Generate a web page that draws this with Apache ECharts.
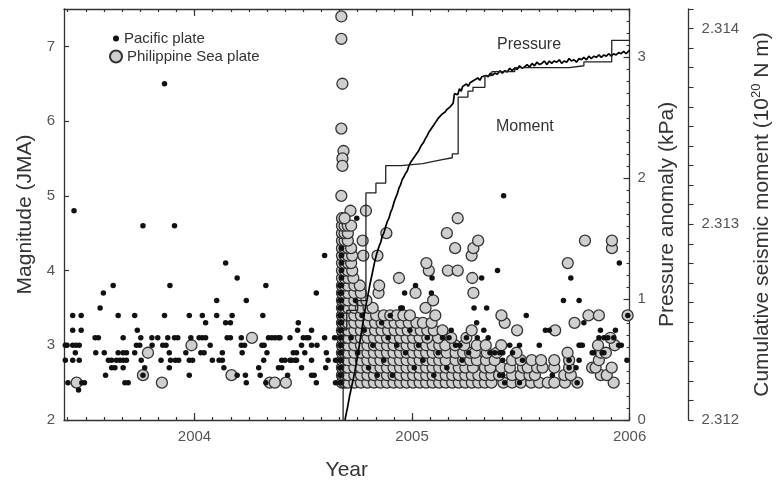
<!DOCTYPE html>
<html><head><meta charset="utf-8">
<script src="https://cdn.jsdelivr.net/npm/echarts@6/dist/echarts.min.js"></script>
<style>html,body{margin:0;padding:0;background:#fff}#c{width:781px;height:486px}</style>
</head><body><div id="c"></div>
<script>
// ---------------- DATA ----------------
const yearLabels = [2004, 2005, 2006];
const magLabels = [2, 3, 4, 5, 6, 7];
const pressureLabels = [0, 1, 2, 3];
const momentLabels = [2.312, 2.313, 2.314];

// Pacific plate events before the 2004 sequence [year, magnitude]
const pacificBefore = [
 [2003.446,4.8],[2003.440,3.4],[2003.479,3.4],[2003.440,3.2],[2003.479,3.2],
 [2003.406,3.0],[2003.414,3.0],[2003.440,3.0],[2003.455,3.0],[2003.470,3.0],
 [2003.452,2.9],[2003.406,2.8],[2003.440,2.8],[2003.470,2.8],
 [2003.418,2.5],[2003.482,2.5],[2003.494,2.5],[2003.467,2.4],
 [2003.566,3.5],[2003.581,3.7],[2003.626,3.8],[2003.543,3.1],[2003.558,3.1],
 [2003.546,2.9],[2003.585,2.9],[2003.591,2.6],[2003.604,2.8],[2003.619,2.8],
 [2003.619,2.7],[2003.634,2.7],[2003.641,2.8],[2003.657,2.8],[2003.672,2.8],[2003.687,2.8],
 [2003.649,2.9],[2003.672,2.9],[2003.687,2.9],[2003.649,3.4],[2003.672,3.1],[2003.672,2.7],
 [2003.680,2.5],[2003.695,2.5],[2003.725,3.4],[2003.725,2.9],[2003.737,3.2],
 [2003.733,3.0],[2003.748,3.0],[2003.753,3.1],[2003.755,2.8],[2003.763,4.6],
 [2003.771,2.7],[2003.763,2.6],[2003.805,3.0],[2003.804,3.1],[2003.831,3.1],
 [2003.846,2.8],[2003.862,3.4],[2003.854,3.0],[2003.869,3.0],[2003.884,2.9],
 [2003.884,2.7],[2003.887,3.8],[2003.877,3.1],[2003.908,3.1],[2003.923,3.1],
 [2003.908,4.6],[2003.890,2.8],[2003.912,2.8],[2003.927,2.8],[2003.960,2.9],
 [2003.976,3.4],[2003.976,2.6],[2003.976,2.8],[2003.991,2.8],[2003.983,3.1],
 [2003.862,6.5],
 [2004.021,3.1],[2004.036,3.1],[2004.051,3.1],[2004.036,3.4],[2004.029,2.9],[2004.044,2.9],
 [2004.051,3.3],[2004.072,3.0],[2004.082,2.8],[2004.102,3.6],[2004.102,3.4],
 [2004.113,2.8],[2004.128,2.8],[2004.128,2.9],[2004.135,2.7],[2004.143,4.1],
 [2004.143,3.3],[2004.165,3.3],[2004.150,3.1],[2004.165,3.1],[2004.173,3.4],
 [2004.196,3.9],[2004.196,2.6],[2004.219,2.9],[2004.215,3.0],[2004.230,3.0],
 [2004.215,3.1],[2004.238,3.6],[2004.234,2.6],[2004.238,2.5],
 [2004.328,3.8],[2004.314,3.4],[2004.295,2.7],[2004.302,2.6],[2004.310,3.0],[2004.320,3.0],
 [2004.318,2.8],[2004.328,2.5],[2004.333,2.9],[2004.340,3.1],[2004.355,3.1],
 [2004.370,3.1],[2004.386,3.1],[2004.393,3.1],[2004.386,2.7],[2004.401,2.7],
 [2004.401,2.8],[2004.416,2.8],[2004.428,2.6],[2004.439,3.1],[2004.439,2.8],
 [2004.446,2.8],[2004.462,2.8],[2004.454,2.9],[2004.469,2.9],[2004.469,2.8],
 [2004.477,3.3],[2004.474,3.2],[2004.492,3.0],[2004.492,2.7],[2004.500,3.1],
 [2004.515,3.1],[2004.507,2.9],[2004.538,3.2],[2004.538,3.0],[2004.538,2.8],
 [2004.538,2.6],[2004.550,2.6],[2004.525,3.1],[2004.560,3.7],[2004.560,2.5],
 [2004.563,3.0],[2004.598,4.2],[2004.598,3.1],[2004.606,2.9],[2004.614,2.8],
 [2004.603,2.7],[2004.644,3.1],[2004.648,2.8],[2004.648,2.5]
];

// Pacific plate events from the Sept 2004 sequence onwards
const pacificAfter = [
 [2004.668,2.5],[2004.668,2.6],[2004.668,2.7],[2004.668,2.8],[2004.668,2.9],[2004.668,3.0],
 [2004.668,3.1],[2004.668,3.2],[2004.668,3.3],[2004.668,3.4],[2004.668,3.5],[2004.668,3.6],
 [2004.668,3.7],[2004.668,3.8],
 [2004.676,2.5],[2004.676,2.6],[2004.676,2.7],[2004.676,2.8],[2004.676,2.9],[2004.676,3.0],
 [2004.676,3.1],[2004.676,3.2],[2004.676,3.3],[2004.676,3.4],[2004.676,3.5],[2004.676,3.6],
 [2004.676,3.7],[2004.676,3.8],[2004.676,3.9],[2004.676,4.0],[2004.676,4.1],[2004.676,4.2],
 [2004.676,4.3],
 [2004.720,3.1],[2004.750,2.9],[2004.780,3.2],[2004.800,2.7],[2004.820,3.0],[2004.840,2.6],
 [2004.860,3.3],[2004.870,2.8],[2004.890,3.1],[2004.910,2.6],[2004.930,3.0],[2004.955,3.5],
 [2004.966,3.7],[2004.970,2.9],[2004.990,3.2],[2005.010,2.7],[2005.016,3.8],[2005.030,3.0],
 [2005.050,2.8],[2005.070,3.1],[2005.089,3.7],[2005.092,3.9],[2005.100,2.6],[2005.120,2.9],
 [2005.140,3.1],[2005.160,2.7],[2005.180,3.2],[2005.200,3.0],[2005.230,2.8],[2005.250,3.1],
 [2004.746,4.7],[2004.740,3.6],[2004.770,3.4],[2004.900,3.4],[2004.948,3.5],
 [2005.170,3.1],[2005.220,3.0],[2005.260,2.9],[2005.300,3.1],[2005.330,3.2],[2005.350,3.1],
 [2005.285,3.5],[2005.320,3.9],[2005.343,3.5],[2005.393,4.0],[2005.421,5.0],[2005.525,3.4],
 [2005.696,3.6],[2005.768,3.6],[2005.730,3.9],[2005.953,4.1],[2005.992,3.4],[2005.988,2.8],
 [2005.613,3.2],[2005.631,3.2],[2005.866,3.2],[2005.935,3.2],
 [2005.859,3.1],[2005.882,3.1],[2005.900,3.1],[2005.927,3.1],
 [2005.449,3.0],[2005.494,3.0],[2005.585,3.0],[2005.768,3.0],[2005.775,3.0],[2005.783,3.0],
 [2005.950,3.0],[2005.962,3.0],
 [2005.358,2.9],[2005.380,2.9],[2005.403,2.9],[2005.417,2.9],[2005.462,2.9],[2005.828,2.9],
 [2005.836,2.9],[2005.874,2.9],[2005.882,2.9],
 [2005.417,2.8],[2005.508,2.8],[2005.722,2.8],[2005.768,2.8],
 [2005.722,2.7],[2005.754,2.7],[2005.403,2.6],[2005.417,2.6],[2005.645,2.6],
 [2005.426,2.5],[2005.494,2.5],[2005.759,2.5],[2005.297,3.3],[2005.790,3.3]
];

// Philippine Sea plate events before the sequence [year, magnitude]
const philippineBefore = [
 [2003.458,2.5],[2003.763,2.6],[2003.786,2.9],[2003.850,2.5],[2003.986,3.0],
 [2004.170,2.6],[2004.264,3.1],[2004.346,2.5],[2004.369,2.5],[2004.420,2.5]
];

// Largest events of the sequence
const philippineLarge = [
 [2004.675,7.4],[2004.675,7.1],[2004.680,6.5],[2004.675,5.9],[2004.685,5.6],
 [2004.680,5.5],[2004.680,5.4],[2004.675,5.0],[2004.717,4.8],[2004.788,4.8]
];

// Aftershock rows: [magnitude, [years...]]
const philippineRows = [
 [2.5, [2004.678,2004.690,2004.705,2004.735,2004.765,2004.795,2004.825,2004.855,2004.885,2004.915,2004.945,2004.975,2005.005,2005.035,2005.065,2005.095,2005.125,2005.155,2005.185,2005.215,2005.245,2005.275,2005.305,2005.335,2005.365,2005.420,2005.460,2005.500,2005.548,2005.585,2005.624,2005.654,2005.703,2005.760,2005.927]],
 [2.6, [2004.678,2004.690,2004.705,2004.735,2004.765,2004.795,2004.825,2004.855,2004.885,2004.915,2004.945,2004.975,2005.005,2005.035,2005.065,2005.095,2005.125,2005.155,2005.185,2005.215,2005.245,2005.275,2005.305,2005.335,2005.365,2005.400,2005.460,2005.500,2005.540,2005.565,2005.700,2005.730,2005.868,2005.895]],
 [2.7, [2004.678,2004.690,2004.705,2004.735,2004.765,2004.795,2004.825,2004.855,2004.885,2004.915,2004.945,2004.975,2005.005,2005.035,2005.065,2005.095,2005.125,2005.155,2005.185,2005.215,2005.245,2005.280,2005.335,2005.360,2005.410,2005.450,2005.510,2005.532,2005.575,2005.600,2005.654,2005.722,2005.828,2005.844,2005.918]],
 [2.8, [2004.678,2004.690,2004.705,2004.735,2004.765,2004.795,2004.825,2004.855,2004.885,2004.915,2004.945,2004.975,2005.005,2005.035,2005.065,2005.095,2005.125,2005.155,2005.200,2005.235,2005.267,2005.298,2005.340,2005.380,2005.460,2005.500,2005.550,2005.593,2005.654,2005.722,2005.859]],
 [2.9, [2004.678,2004.690,2004.705,2004.735,2004.765,2004.795,2004.825,2004.855,2004.885,2004.915,2004.945,2004.975,2005.005,2005.035,2005.065,2005.095,2005.125,2005.160,2005.200,2005.235,2005.267,2005.289,2005.344,2005.390,2005.480,2005.715,2005.868,2005.891]],
 [3.0, [2004.678,2004.690,2004.705,2004.735,2004.765,2004.795,2004.825,2004.855,2004.885,2004.915,2004.945,2004.975,2005.005,2005.035,2005.065,2005.095,2005.125,2005.153,2005.198,2005.240,2005.298,2005.339,2005.410,2005.855,2005.932]],
 [3.1, [2004.678,2004.690,2004.705,2004.735,2004.765,2004.795,2004.825,2004.855,2004.885,2004.915,2004.945,2004.975,2005.005,2005.035,2005.070,2005.120,2005.180,2005.250,2005.912]],
 [3.2, [2004.678,2004.690,2004.705,2004.735,2004.765,2004.795,2004.830,2004.860,2004.890,2004.920,2004.950,2004.980,2005.010,2005.040,2005.070,2005.100,2005.140,2005.274,2005.483,2005.658]],
 [3.3, [2004.678,2004.690,2004.705,2004.735,2004.765,2004.800,2004.830,2004.860,2004.890,2004.920,2004.950,2004.985,2005.020,2005.050,2005.090,2005.426,2005.747]],
 [3.4, [2004.678,2004.690,2004.705,2004.735,2004.765,2004.800,2004.835,2004.870,2004.900,2004.930,2004.960,2004.990,2005.107,2005.411,2005.811,2005.859,2005.991]],
 [3.5, [2004.678,2004.690,2004.705,2004.735,2004.765,2004.800,2004.819,2005.062]],
 [3.6, [2004.678,2004.690,2004.705,2004.735,2004.765,2004.790,2005.097]],
 [3.7, [2004.678,2004.690,2004.705,2004.735,2004.765,2004.846,2005.016,2005.282]],
 [3.8, [2004.678,2004.690,2004.705,2004.735,2004.760,2004.849]],
 [3.9, [2004.678,2004.690,2004.705,2004.730,2004.940,2005.277]],
 [4.0, [2004.678,2004.690,2004.705,2004.725,2005.077,2005.165,2005.210]],
 [4.1, [2004.678,2004.690,2004.705,2004.720,2005.066,2005.716]],
 [4.2, [2004.678,2004.690,2004.705,2004.725,2004.776,2004.841,2005.274]],
 [4.3, [2004.678,2004.690,2004.705,2004.720,2005.198,2005.282,2005.919]],
 [4.4, [2004.678,2004.690,2004.705,2004.773,2005.304,2005.795,2005.919]],
 [4.5, [2004.678,2004.690,2004.705,2004.882,2005.160]],
 [4.6, [2004.678,2004.690,2004.705,2004.720]],
 [4.7, [2004.678,2004.690,2005.210]]
];

// Pressure anomaly (kPa) [year, value]
const pressure = [
 [2004.692,0.00],[2004.697,0.05],[2004.702,0.09],[2004.706,0.13],[2004.712,0.19],[2004.718,0.24],
 [2004.724,0.29],[2004.730,0.34],[2004.737,0.40],[2004.743,0.46],[2004.750,0.53],[2004.757,0.61],
 [2004.765,0.70],[2004.772,0.78],[2004.780,0.87],[2004.788,0.95],[2004.797,1.03],[2004.804,1.10],
 [2004.811,1.16],[2004.818,1.22],[2004.826,1.29],[2004.834,1.35],[2004.842,1.40],[2004.849,1.44],
 [2004.856,1.47],[2004.863,1.52],[2004.871,1.55],[2004.879,1.60],[2004.886,1.64],[2004.894,1.67],
 [2004.902,1.72],[2004.909,1.75],[2004.917,1.80],[2004.925,1.84],[2004.932,1.87],[2004.940,1.92],
 [2004.948,1.95],[2004.955,1.99],[2004.962,2.01],[2004.970,2.04],[2004.978,2.06],[2004.985,2.10],
 [2004.993,2.13],[2005.001,2.14],[2005.008,2.17],[2005.016,2.19],[2005.024,2.21],[2005.031,2.23],
 [2005.039,2.26],[2005.046,2.28],[2005.054,2.30],[2005.062,2.33],[2005.069,2.35],[2005.077,2.38],
 [2005.084,2.39],[2005.092,2.42],[2005.100,2.44],[2005.107,2.46],[2005.115,2.47],[2005.122,2.50],
 [2005.130,2.51],[2005.138,2.53],[2005.145,2.54],[2005.153,2.55],[2005.161,2.57],[2005.168,2.58],
 [2005.175,2.59],[2005.183,2.60],[2005.189,2.62],[2005.195,2.70],[2005.203,2.71],[2005.210,2.69],
 [2005.218,2.74],[2005.226,2.72],[2005.233,2.76],[2005.241,2.75],[2005.250,2.78],[2005.258,2.76],
 [2005.267,2.79],[2005.276,2.78],[2005.285,2.81],[2005.294,2.80],[2005.303,2.83],[2005.312,2.81],
 [2005.321,2.84],[2005.330,2.83],[2005.340,2.85],[2005.350,2.84],[2005.360,2.87],[2005.370,2.85],
 [2005.380,2.87],[2005.392,2.86],[2005.404,2.89],[2005.415,2.87],[2005.426,2.89],[2005.438,2.88],
 [2005.449,2.91],[2005.460,2.89],[2005.472,2.91],[2005.483,2.90],[2005.494,2.93],[2005.506,2.91],
 [2005.517,2.92],[2005.529,2.94],[2005.540,2.92],[2005.552,2.95],[2005.563,2.93],[2005.574,2.96],
 [2005.586,2.94],[2005.597,2.95],[2005.608,2.97],[2005.620,2.94],[2005.631,2.97],[2005.642,2.95],
 [2005.654,2.97],[2005.665,2.96],[2005.677,2.98],[2005.688,2.95],[2005.699,2.97],[2005.711,2.96],
 [2005.722,2.99],[2005.733,2.97],[2005.745,2.98],[2005.756,2.96],[2005.768,2.99],[2005.779,2.98],
 [2005.790,3.00],[2005.802,2.98],[2005.813,3.01],[2005.824,2.99],[2005.836,3.01],[2005.847,3.00],
 [2005.859,3.02],[2005.870,3.00],[2005.882,3.02],[2005.893,3.01],[2005.904,3.03],[2005.916,3.01],
 [2005.927,3.03],[2005.938,3.02],[2005.950,3.04],[2005.961,3.03],[2005.973,3.05],[2005.984,3.03],
 [2006.000,3.06]
];

// Cumulative seismic moment (10^20 N m) [year, value]
const moment = [
 [2004.683,2.31200],[2004.684,2.31246],[2004.700,2.31256],[2004.750,2.31261],
 [2004.788,2.31316],[2004.834,2.31321],[2004.879,2.31330],[2004.950,2.31331],
 [2005.050,2.31332],[2005.093,2.31333],[2005.139,2.31334],[2005.185,2.31336],
 [2005.212,2.31365],[2005.257,2.31368],[2005.280,2.31370],[2005.335,2.31376],
 [2005.367,2.31378],[2005.472,2.31380],[2005.722,2.31381],[2005.790,2.31383],
 [2005.918,2.31394],[2006.000,2.31394]
];

// ---------------- CHART ----------------
const FONT = "'Liberation Sans', Arial, Helvetica, sans-serif";
const AX = '#333';
const LBL = '#555';

const philippine = philippineBefore.concat(philippineLarge);
philippineRows.forEach(r => r[1].forEach(t => philippine.push([t, r[0]])));
const pacific = pacificBefore.concat(pacificAfter);

const monthTicks = [];
for (let k = 0; k <= 31; k++) monthTicks.push(+(2003 + 5 / 12 + k / 12).toFixed(5));
const pressureTicks = [];
for (let k = 0; k <= 34; k++) pressureTicks.push(+(k / 10).toFixed(2));
const momentTicks = [];
for (let k = 0; k <= 21; k++) momentTicks.push(+(2.312 + k * 0.0001).toFixed(4));

const X_MIN = 2003.4, X_MAX = 2006;

function xAx(pos, ticks, len, opts) {
  return Object.assign({
    type: 'value', position: pos, min: X_MIN, max: X_MAX, offset: 0,
    axisLine: { show: true, onZero: false, lineStyle: { color: AX, width: 1.3 } },
    axisTick: { show: true, inside: true, length: len, customValues: ticks, lineStyle: { color: AX, width: 1.2 } },
    axisLabel: { show: false },
    splitLine: { show: false }
  }, opts || {});
}

const chart = echarts.init(document.getElementById('c'));
chart.setOption({
  animation: false,
  backgroundColor: '#fff',
  textStyle: { fontFamily: FONT },
  grid: { left: 64, right: 145, top: 9, bottom: 66, containLabel: false },
  legend: [
    { data: ['Pacific plate'], left: 113, top: 31, padding: 0, icon: 'circle', itemWidth: 6, itemHeight: 6,
      selectedMode: false, textStyle: { fontSize: 15, color: '#333', fontFamily: FONT } },
    { data: ['Philippine Sea plate'], left: 109, top: 49, padding: 0, icon: 'circle', itemWidth: 12, itemHeight: 12,
      selectedMode: false, textStyle: { fontSize: 15, color: '#333', fontFamily: FONT } }
  ],
  xAxis: [
    xAx('bottom', monthTicks, 3, {
      name: 'Year', nameLocation: 'middle', nameGap: 40,
      nameTextStyle: { fontSize: 21, color: '#333', fontFamily: FONT },
      axisLabel: { show: true, customValues: yearLabels, margin: 9, fontSize: 15, color: LBL, fontFamily: FONT,
        formatter: v => String(Math.round(v)) }
    }),
    xAx('bottom', yearLabels, 7, { axisLine: { show: false, onZero: false } }),
    xAx('top', monthTicks, 3),
    xAx('top', yearLabels, 7, { axisLine: { show: false, onZero: false } })
  ],
  yAxis: [
    { type: 'value', position: 'left', min: 2, max: 7.5, offset: 0,
      name: 'Magnitude (JMA)', nameLocation: 'middle', nameGap: 28,
      nameTextStyle: { fontSize: 21, color: '#333', fontFamily: FONT },
      axisLine: { show: true, onZero: false, lineStyle: { color: AX, width: 1.3 } },
      axisTick: { show: true, inside: true, length: 5, customValues: magLabels, lineStyle: { color: AX, width: 1.2 } },
      axisLabel: { customValues: magLabels, margin: 9, fontSize: 15, color: LBL, fontFamily: FONT },
      splitLine: { show: false } },
    { type: 'value', position: 'right', min: 0, max: 3.4, offset: 0,
      name: 'Pressure anomaly (kPa)', nameLocation: 'middle', nameGap: 23,
      nameTextStyle: { fontSize: 21, color: '#333', fontFamily: FONT },
      axisLine: { show: true, onZero: false, lineStyle: { color: AX, width: 1.3 } },
      axisTick: { show: true, inside: true, length: 6, customValues: pressureLabels, lineStyle: { color: AX, width: 1.2 } },
      axisLabel: { customValues: pressureLabels, margin: 8, fontSize: 15, color: LBL, fontFamily: FONT },
      splitLine: { show: false } },
    { type: 'value', position: 'right', min: 0, max: 3.4, offset: 0,
      axisLine: { show: false, onZero: false },
      axisTick: { show: true, inside: true, length: 3, customValues: pressureTicks, lineStyle: { color: AX, width: 1.1 } },
      axisLabel: { show: false }, splitLine: { show: false } },
    { type: 'value', position: 'right', min: 2.312, max: 2.3141, offset: 59,
      name: '{a|Cumulative seismic moment (10}{s|20}{a| N m)}', nameLocation: 'middle', nameGap: 60,
      nameTextStyle: { fontSize: 21, color: '#333', fontFamily: FONT,
        rich: { a: { fontSize: 21, color: '#333', fontFamily: FONT },
                s: { fontSize: 13, color: '#333', fontFamily: FONT, padding: [0, 0, 12, 0] } } },
      axisLine: { show: true, onZero: false, lineStyle: { color: AX, width: 1.3 } },
      axisTick: { show: true, inside: false, length: 5, customValues: momentTicks, lineStyle: { color: AX, width: 1.1 } },
      axisLabel: { customValues: momentLabels, margin: 13, fontSize: 15, color: LBL, fontFamily: FONT,
        formatter: v => v.toFixed(3) },
      splitLine: { show: false } }
  ],
  graphic: [
    { type: 'text', left: 497, top: 37, style: { text: 'Pressure', font: '16px ' + FONT, fill: '#333' } },
    { type: 'text', left: 496, top: 119, style: { text: 'Moment', font: '16px ' + FONT, fill: '#333' } }
  ],
  series: [
    { name: 'Philippine Sea plate', type: 'scatter', xAxisIndex: 0, yAxisIndex: 0, data: philippine,
      symbol: 'circle', symbolSize: 11, z: 2,
      itemStyle: { color: '#cfcfcf', borderColor: '#333', borderWidth: 1.3, opacity: 1 } },
    { name: 'Pacific plate', type: 'scatter', xAxisIndex: 0, yAxisIndex: 0, data: pacific,
      symbol: 'circle', symbolSize: 5.5, z: 3, itemStyle: { color: '#111', opacity: 1 } },
    { name: 'Pressure', type: 'line', xAxisIndex: 0, yAxisIndex: 1, data: pressure, showSymbol: false,
      z: 4, lineStyle: { color: '#000', width: 1.7 } },
    { name: 'Moment', type: 'line', xAxisIndex: 0, yAxisIndex: 3, data: moment, showSymbol: false,
      step: 'end', z: 4, lineStyle: { color: '#222', width: 1.3 } }
  ]
});
</script>
</body></html>
